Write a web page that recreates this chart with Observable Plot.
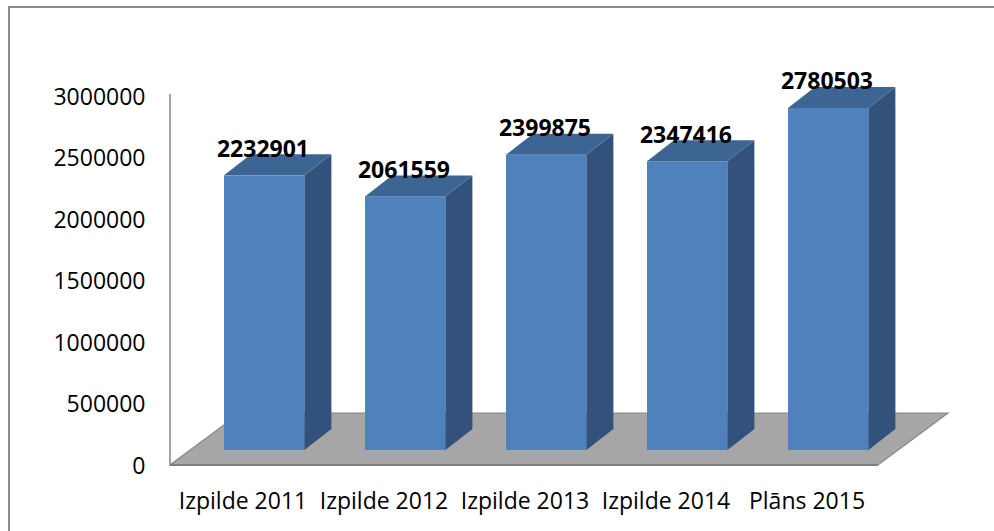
<!DOCTYPE html>
<html>
<head>
<meta charset="utf-8">
<script src="https://cdn.jsdelivr.net/npm/d3@7"></script>
<script src="https://cdn.jsdelivr.net/npm/@observablehq/plot@0.6"></script>
<style>
  html, body { margin: 0; padding: 0; background: #fff; }
  #wrap { position: relative; width: 994px; height: 531px; overflow: hidden; }
  #border { position: absolute; left: 8px; top: 6px; width: 1200px; height: 800px;
            border-left: 2px solid #8a8a8a; border-top: 2px solid #8a8a8a; pointer-events: none; }
  #chart svg text { font-family: "Open Sans", sans-serif; font-size: 23px; fill: #000; }
</style>
</head>
<body>
<div id="wrap"><div id="chart"></div><div id="border"></div></div>
<script>
const categories = ["Izpilde 2011", "Izpilde 2012", "Izpilde 2013", "Izpilde 2014", "Plāns 2015"];
const values = [2232901, 2061559, 2399875, 2347416, 2780503];
const yTicks = [0, 500000, 1000000, 1500000, 2000000, 2500000, 3000000];

const data = categories.map((c, i) => ({cat: c, value: values[i]}));

const FRONT = "#4f81bd", TOP = "#3d6593", SIDE = "#32527b";
const FLOOR = "#a6a6a6", FLOOR_EDGE = "#878787", AXIS = "#8c8c8c";
const INSET_L = 52, INSET_R = 8.6, LIFT = 16, DX = 27, DY = 21;
const FLOOR_DX = 70, FLOOR_DY = 52;

function floorMark(index, scales) {
  const x = scales.x, y = scales.y;
  const [x0, x1] = x.range();
  const yb = y(0) - 1;
  const g = d3.create("svg:g");
  g.append("polygon")
    .attr("points", [[x0, yb], [x1, yb], [x1 + FLOOR_DX, yb - FLOOR_DY], [x0 + FLOOR_DX, yb - FLOOR_DY]].map(p => p.join(",")).join(" "))
    .attr("fill", FLOOR).attr("stroke", FLOOR_EDGE).attr("stroke-width", 1.2);
  g.append("line").attr("x1", x0).attr("x2", x1).attr("y1", yb).attr("y2", yb)
    .attr("stroke", "#7f7f7f").attr("stroke-width", 2.2);
  const [yr0, yr1] = y.range();
  g.append("line").attr("x1", x0).attr("x2", x0).attr("y1", Math.min(yr0, yr1) - 3).attr("y2", yb)
    .attr("stroke", AXIS).attr("stroke-width", 1.6);
  return g.node();
}

function facesMark(index, scales) {
  const x = scales.x, y = scales.y, bw = x.bandwidth();
  const g = d3.create("svg:g");
  for (const d of data) {
    const xa = x(d.cat) + INSET_L, xb = x(d.cat) + bw - INSET_R;
    const yt = y(d.value) - LIFT, yb = y(0) - LIFT;
    g.append("polygon")
      .attr("points", [[xb, yt], [xb + DX, yt - DY], [xb + DX, yb - DY], [xb, yb]].map(p => p.join(",")).join(" "))
      .attr("fill", SIDE);
    g.append("polygon")
      .attr("points", [[xa, yt], [xa + DX, yt - DY], [xb + DX, yt - DY], [xb, yt]].map(p => p.join(",")).join(" "))
      .attr("fill", TOP);
  }
  return g.node();
}

const plot = Plot.plot({
  width: 994,
  height: 531,
  marginLeft: 170,
  marginRight: 116,
  marginTop: 97,
  marginBottom: 65,
  style: {background: "transparent", color: "#000"},
  x: {domain: categories, padding: 0, label: null, tickSize: 0, tickPadding: 26},
  y: {domain: [0, 3000000], ticks: yTicks, tickFormat: d => String(d), label: null, tickSize: 0, tickPadding: 25},
  marks: [
    floorMark,
    Plot.barY(data, {x: "cat", y: "value", fill: FRONT, insetLeft: INSET_L, insetRight: INSET_R, dy: -LIFT}),
    facesMark,
    Plot.text(data, {x: "cat", y: "value", text: d => String(d.value), dx: 20, dy: -42.5, fontWeight: "bold", fill: "#000"})
  ]
});
document.getElementById("chart").appendChild(plot);
</script>
</body>
</html>
